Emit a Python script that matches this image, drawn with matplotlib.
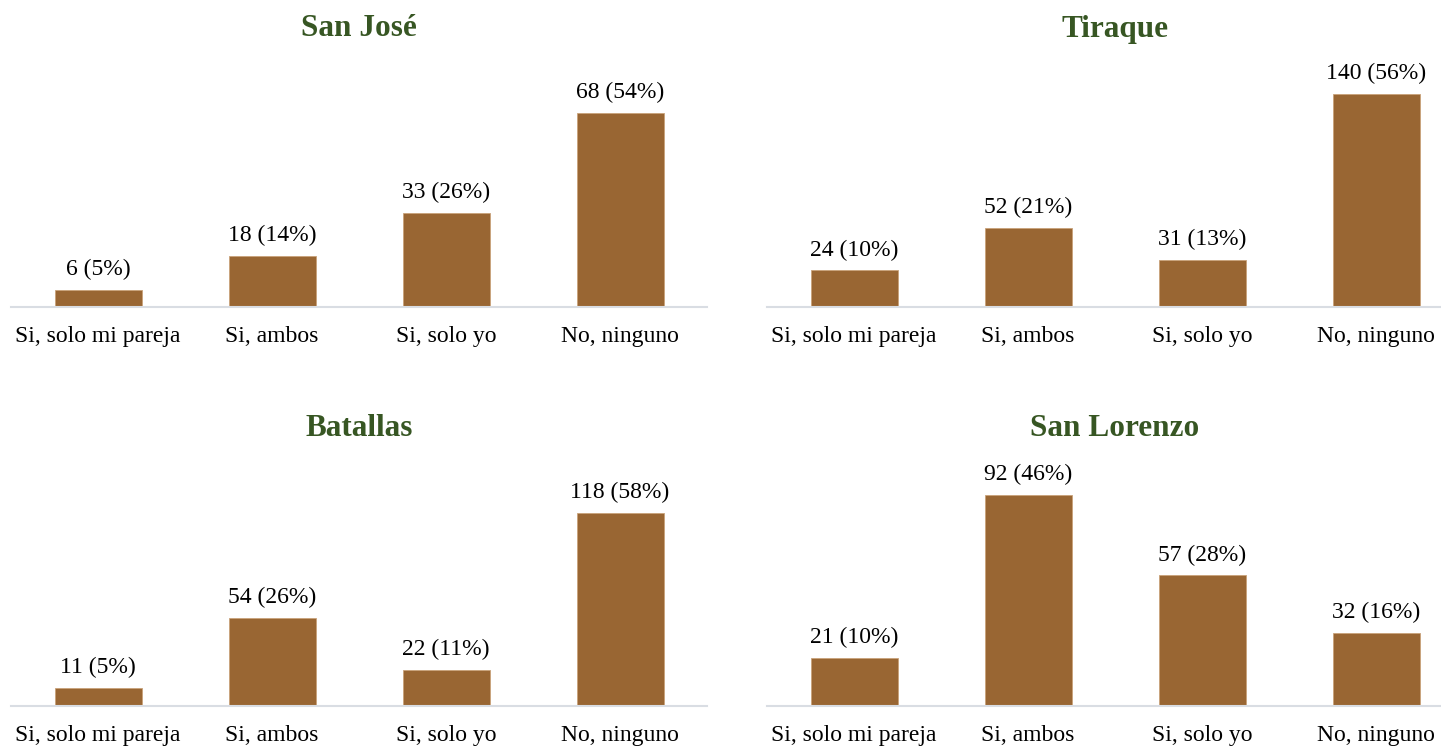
import numpy as np
import matplotlib.pyplot as plt

plt.rcParams['font.family'] = ['Liberation Serif', 'DejaVu Serif']

categories = ['Si, solo mi pareja', 'Si, ambos', 'Si, solo yo', 'No, ninguno']

titles = ['San José', 'Tiraque', 'Batallas', 'San Lorenzo']
counts = {
    'San José': [6, 18, 33, 68],
    'Tiraque': [24, 52, 31, 140],
    'Batallas': [11, 54, 22, 118],
    'San Lorenzo': [21, 92, 57, 32],
}
percents = {
    'San José': [5, 14, 26, 54],
    'Tiraque': [10, 21, 13, 56],
    'Batallas': [5, 26, 11, 58],
    'San Lorenzo': [10, 46, 28, 16],
}
# y-axis tops chosen so bars match the reference's pixel heights
ytops = {'San José': 86.6, 'Tiraque': 162.0, 'Batallas': 150.4, 'San Lorenzo': 107.3}

bar_color = '#996633'
title_color = '#375623'
line_color = '#d9dde3'

W, H = 1441, 747
fig = plt.figure(figsize=(W / 100, H / 100), dpi=100)

# panel boxes in pixels: (left, right, top, baseline, title centre y)
boxes = {
    'San José': (11, 707, 60, 307, 29),
    'Tiraque': (767, 1463, 60, 307, 29),
    'Batallas': (11, 707, 460, 706, 428),
    'San Lorenzo': (767, 1463, 460, 706, 428),
}

x = np.arange(len(categories))
for name in titles:
    l, r, t, b, ty = boxes[name]
    ax = fig.add_axes([l / W, 1 - b / H, (r - l) / W, (b - t) / H])
    ax.bar(x, counts[name], width=0.5, color=bar_color, edgecolor='#c9a27a', linewidth=0.6)
    for xi, c, p in zip(x, counts[name], percents[name]):
        ax.annotate(f'{c} ({p}%)', (xi, c), xytext=(0, 7), textcoords='offset points',
                    ha='center', va='bottom', fontsize=17, color='black')
    ax.set_xlim(-0.5, len(categories) - 0.5)
    ax.set_ylim(0, ytops[name])
    ax.set_xticks(x)
    ax.set_xticklabels(categories, fontsize=17)
    ax.tick_params(axis='x', length=0, pad=14)
    ax.set_yticks([])
    for s in ['top', 'right', 'left']:
        ax.spines[s].set_visible(False)
    ax.spines['bottom'].set_color(line_color)
    ax.spines['bottom'].set_linewidth(1.5)
    fig.text((l + r) / 2 / W, 1 - ty / H, name, ha='center', va='center',
             fontsize=22.5, fontweight='bold', color=title_color)

fig.savefig('out.png', dpi=100, facecolor='white')
